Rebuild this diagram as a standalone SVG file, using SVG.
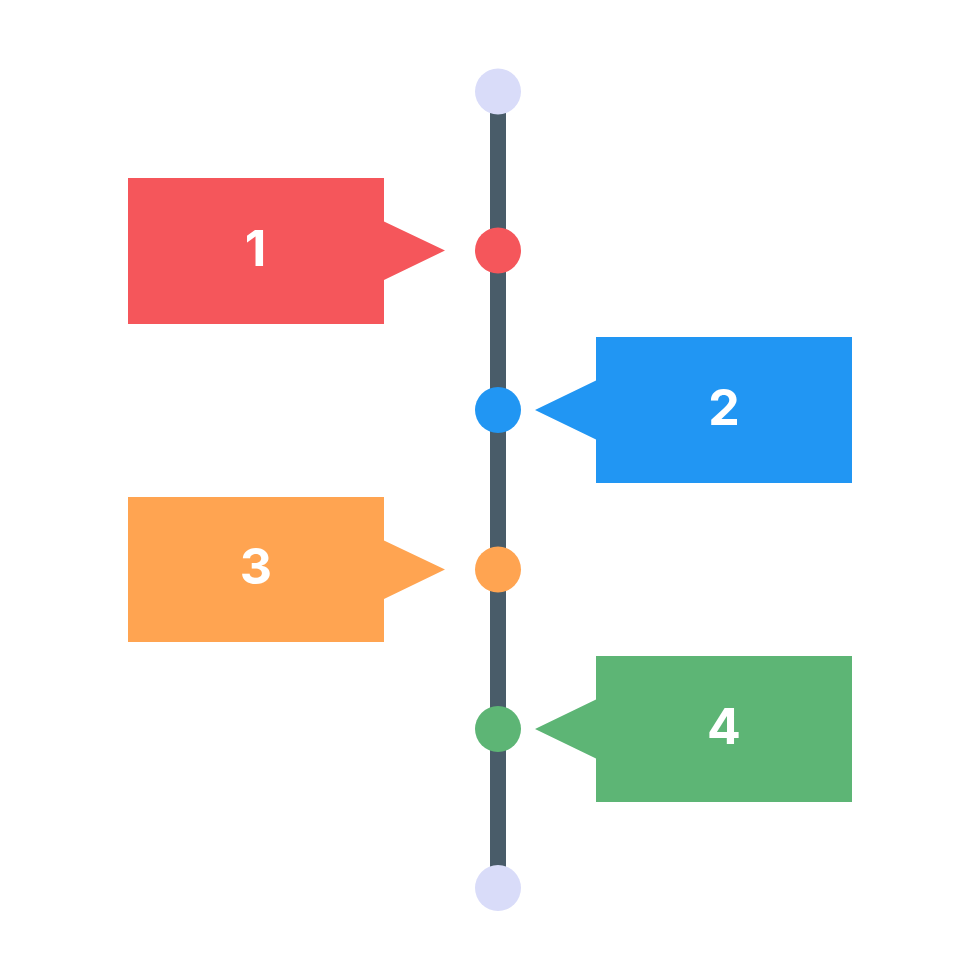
<svg xmlns="http://www.w3.org/2000/svg" width="980" height="980" viewBox="0 0 980 980">
<style>
.label{font-family:"Inter","Liberation Sans",sans-serif;font-size:50px;font-weight:700;fill:#fff;text-anchor:middle}
.end{fill:#d9dcf9}
</style>
<rect width="980" height="980" fill="#fff"/>
<g id="connectors"><rect x="490" y="91" width="16" height="797" fill="#495c69"/></g>
<g id="end-top"><circle class="end" cx="498" cy="91.500" r="23"/></g>
<g id="end-bottom"><circle class="end" cx="498" cy="888" r="23"/></g>
<g id="node-1"><circle cx="498" cy="250.500" r="23" fill="#f5565b"/><path d="M128 178H384V221.500L445 250.500L384 280V324H128Z" fill="#f5565b"/><text class="label" x="255.500" y="266">1</text></g>
<g id="node-2"><circle cx="498" cy="410" r="23" fill="#2196f3"/><path d="M852 337H596V380.500L535 410L596 439.500V483H852Z" fill="#2196f3"/><text class="label" x="724" y="425">2</text></g>
<g id="node-3"><circle cx="498" cy="569.500" r="23" fill="#ffa451"/><path d="M128 497H384V540.500L445 569.500L384 599V642H128Z" fill="#ffa451"/><text class="label" x="256" y="584">3</text></g>
<g id="node-4"><circle cx="498" cy="729" r="23" fill="#5db575"/><path d="M852 656H596V699.500L535 729L596 758.500V802H852Z" fill="#5db575"/><text class="label" x="724" y="744">4</text></g>
</svg>
